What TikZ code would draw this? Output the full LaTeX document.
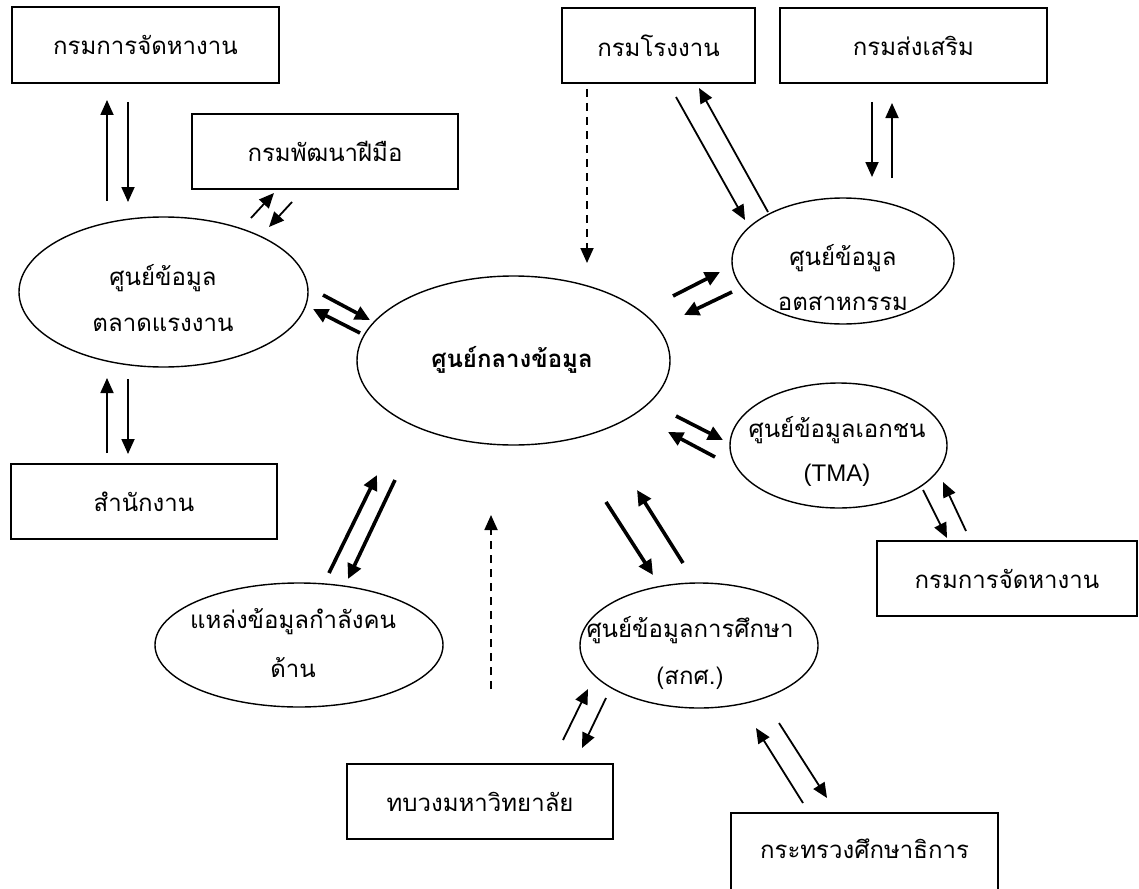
\documentclass[tikz,border=0pt]{standalone}
\usepackage{fontspec}
\newfontfamily\thaifont[Script=Thai]{Loma}
\newfontfamily\latfont{Liberation Sans}
\usetikzlibrary{shapes.geometric,arrows.meta}
\begin{document}
\begin{tikzpicture}[x=1pt,y=-1pt,
  box/.style={draw, line width=1.6pt, inner sep=0pt, font=\thaifont\fontsize{24}{28}\selectfont},
  oval/.style={draw, ellipse, line width=1.4pt, inner sep=0pt},
  lbl/.style={inner sep=0pt, font=\thaifont\fontsize{24}{28}\selectfont},
  thinarr/.style={line width=1.8pt, -{Triangle[length=15pt,width=13pt]}},
  thickarr/.style={line width=3.6pt, -{Triangle[length=15pt,width=14pt]}},
  dasharr/.style={line width=1.8pt, dash pattern=on 8pt off 6pt, -{Triangle[length=15pt,width=13pt]}}]
\useasboundingbox (0,0) rectangle (1139,888);
\clip (0,0) rectangle (1139,888);
% boxes
\node[box, minimum width=267pt, minimum height=76pt] (b1) at (145.5,45) {กรมการจัดหางาน};
\node[box, minimum width=266pt, minimum height=75pt] (b2) at (325,151.5) {กรมพัฒนาฝีมือ};
\node[box, minimum width=193pt, minimum height=75pt] (b3) at (658.5,45.5) {กรมโรงงาน};
\node[box, minimum width=267pt, minimum height=75pt] (b4) at (913.5,45.5) {กรมส่งเสริม};
\node[box, minimum width=266pt, minimum height=75pt] (b5) at (144,501.5) {สำนักงาน};
\node[box, minimum width=260pt, minimum height=75pt] (b6) at (1007,578.5) {กรมการจัดหางาน};
\node[box, minimum width=266pt, minimum height=75pt] (b7) at (480,801.5) {ทบวงมหาวิทยาลัย};
\node[box, minimum width=267pt, minimum height=80pt] (b8) at (864.5,853) {};
\node[lbl] (b8t) at (864.5,849) {กระทรวงศึกษาธิการ};
% ellipses
\node[oval, minimum width=289pt, minimum height=150pt] (A) at (163.5,292) {};
\node[oval, minimum width=313pt, minimum height=169pt] (B) at (513.5,360.5) {};
\node[oval, minimum width=222pt, minimum height=126pt] (C) at (843,261) {};
\node[oval, minimum width=217pt, minimum height=125pt] (D) at (838.5,445.5) {};
\node[oval, minimum width=288pt, minimum height=124pt] (E) at (299,645) {};
\node[oval, minimum width=238pt, minimum height=125pt] (F) at (699,645.5) {};
% ellipse texts
\node[lbl] (A1) at (163,278) {ศูนย์ข้อมูล};
\node[lbl] (A2) at (163,325) {ตลาดแรงงาน};
\node[lbl, font=\thaifont\bfseries\fontsize{24}{28}\selectfont] (B1) at (512,360) {ศูนย์กลางข้อมูล};
\node[lbl] (C1) at (843,258) {ศูนย์ข้อมูล};
\node[lbl] (C2) at (843,303) {อตสาหกรรม};
\node[lbl] (D1) at (837,430) {ศูนย์ข้อมูลเอกชน};
\node[lbl, font=\latfont\fontsize{24}{28}\selectfont] (D2) at (837,475) {(TMA)};
\node[lbl] (E1) at (293,622) {แหล่งข้อมูลกำลังคน};
\node[lbl] (E2) at (293,668) {ด้าน};
\node[lbl] (F1) at (690,630) {ศูนย์ข้อมูลการศึกษา};
\node[lbl] (F2) at (690,678) {(สกศ.)};
% connectors: A <-> b1
\coordinate (p1s) at (107,201); \coordinate (p1e) at (107,100);
\coordinate (p2s) at (128,102); \coordinate (p2e) at (128,202);
\draw[thinarr] (p1s) -- (p1e);
\draw[thinarr] (p2s) -- (p2e);
% A <-> b5
\coordinate (p3s) at (107,453); \coordinate (p3e) at (107,378);
\coordinate (p4s) at (128,379); \coordinate (p4e) at (128,454);
\draw[thinarr] (p3s) -- (p3e);
\draw[thinarr] (p4s) -- (p4e);
% A <-> b2
\coordinate (p5s) at (251,218); \coordinate (p5e) at (274,193);
\coordinate (p6s) at (292,202); \coordinate (p6e) at (269,227);
\draw[thinarr] (p5s) -- (p5e);
\draw[thinarr] (p6s) -- (p6e);
% A <-> B
\coordinate (p7s) at (323,295); \coordinate (p7e) at (370,320);
\coordinate (p8s) at (360,333); \coordinate (p8e) at (313,309);
\draw[thickarr] (p7s) -- (p7e);
\draw[thickarr] (p8s) -- (p8e);
% b3 -> B dashed
\coordinate (p9s) at (587,89); \coordinate (p9e) at (587,263);
\draw[dasharr] (p9s) -- (p9e);
% b3 <-> C
\coordinate (p10s) at (676,97); \coordinate (p10e) at (745,220);
\coordinate (p11s) at (768,212); \coordinate (p11e) at (699,88);
\draw[thinarr] (p10s) -- (p10e);
\draw[thinarr] (p11s) -- (p11e);
% b4 <-> C
\coordinate (p12s) at (872,102); \coordinate (p12e) at (872,177);
\coordinate (p13s) at (892,178); \coordinate (p13e) at (892,103);
\draw[thinarr] (p12s) -- (p12e);
\draw[thinarr] (p13s) -- (p13e);
% B <-> C
\coordinate (p14s) at (673,296); \coordinate (p14e) at (720,272);
\coordinate (p15s) at (732,292); \coordinate (p15e) at (684,315);
\draw[thickarr] (p14s) -- (p14e);
\draw[thickarr] (p15s) -- (p15e);
% B <-> D
\coordinate (p16s) at (676,416); \coordinate (p16e) at (723,440);
\coordinate (p17s) at (715,457); \coordinate (p17e) at (668,432);
\draw[thickarr] (p16s) -- (p16e);
\draw[thickarr] (p17s) -- (p17e);
% D <-> b6
\coordinate (p18s) at (923,490); \coordinate (p18e) at (947,538);
\coordinate (p19s) at (966,531); \coordinate (p19e) at (943,482);
\draw[thinarr] (p18s) -- (p18e);
\draw[thinarr] (p19s) -- (p19e);
% E <-> B
\coordinate (p20s) at (329,573); \coordinate (p20e) at (377,475);
\coordinate (p21s) at (395,480); \coordinate (p21e) at (348,579);
\draw[thickarr] (p20s) -- (p20e);
\draw[thickarr] (p21s) -- (p21e);
% b7 -> B dashed
\coordinate (p22s) at (491,689); \coordinate (p22e) at (491,515);
\draw[dasharr] (p22s) -- (p22e);
% B <-> F
\coordinate (p23s) at (606,502); \coordinate (p23e) at (653,575);
\coordinate (p24s) at (683,563); \coordinate (p24e) at (637,490);
\draw[thickarr] (p23s) -- (p23e);
\draw[thickarr] (p24s) -- (p24e);
% b7 <-> F
\coordinate (p25s) at (563,740); \coordinate (p25e) at (588,689);
\coordinate (p26s) at (606,698); \coordinate (p26e) at (582,748);
\draw[thinarr] (p25s) -- (p25e);
\draw[thinarr] (p26s) -- (p26e);
% b8 <-> F
\coordinate (p27s) at (803,803); \coordinate (p27e) at (756,728);
\coordinate (p28s) at (779,723); \coordinate (p28e) at (827,798);
\draw[thinarr] (p27s) -- (p27e);
\draw[thinarr] (p28s) -- (p28e);
\end{tikzpicture}
\end{document}
